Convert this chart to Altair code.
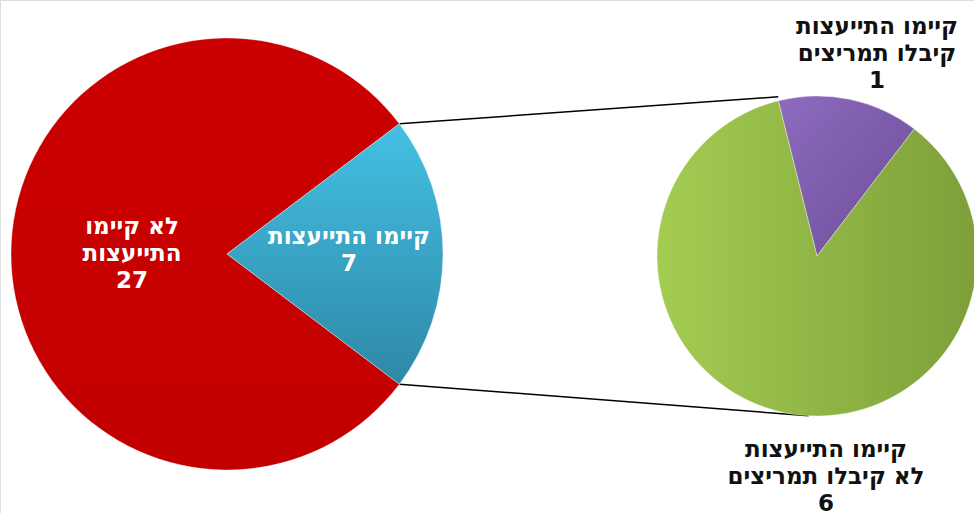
import math
import altair as alt
import pandas as pd

# ---- data ----
left_categories = ["קיימו התייעצות", "לא קיימו התייעצות"]
left_values = [7, 27]
right_categories = ["קיימו התייעצות קיבלו תמריצים", "קיימו התייעצות לא קיבלו תמריצים"]
right_values = [1, 6]

# label text (line-broken category names)
left_label_lines = ["קיימו התייעצות", "לא קיימו\nהתייעצות"]
right_label_lines = ["קיימו התייעצות\nקיבלו תמריצים", "קיימו התייעצות\nלא קיבלו תמריצים"]

# ---- layout (pixels) ----
W, H = 974, 513
L_CX, L_CY, L_R = 227, 254, 216
R_CX, R_CY, R_R = 817, 256, 160
FONT = "DejaVu Sans"
FS = 23
LH = 27


def pie_frame(cats, vals, labels, start):
    total = sum(vals)
    rows = []
    acc = 0.0
    for c, v, lab in zip(cats, vals, labels):
        a0 = start + 2 * math.pi * acc / total
        acc += v
        a1 = start + 2 * math.pi * acc / total
        rows.append({"cat": c, "value": v, "start": a0, "end": a1,
                     "label": lab + "\n" + str(v)})
    return pd.DataFrame(rows)


# left pie: the small slice centred on 3 o'clock
f_left = left_values[0] / sum(left_values)
left_start = math.pi / 2 - f_left * math.pi
left_df = pie_frame(left_categories, left_values, left_label_lines, left_start)

# right pie: small slice starts just left of 12 o'clock
right_start = math.radians(-14)
right_df = pie_frame(right_categories, right_values, right_label_lines, right_start)


def grad(c1, c2, x1=0, y1=0, x2=0, y2=1):
    return alt.Gradient(gradient="linear", x1=x1, y1=y1, x2=x2, y2=y2,
                        stops=[alt.GradientStop(color=c1, offset=0),
                               alt.GradientStop(color=c2, offset=1)])


def slice_layer(df, cat, cx, cy, r, fill):
    return alt.Chart(df).transform_filter(
        alt.datum.cat == cat
    ).mark_arc(fill=fill, stroke="#ffffff", strokeOpacity=0.35, strokeWidth=1).encode(
        theta=alt.Theta("start:Q", scale=None),
        theta2="end:Q",
        x=alt.value(cx), y=alt.value(cy),
        radius=alt.value(r),
    )


def label_layer(df, cat, x, y, color):
    return alt.Chart(df).transform_filter(
        alt.datum.cat == cat
    ).mark_text(font=FONT, fontSize=FS, fontWeight="bold", color=color,
                lineBreak="\n", lineHeight=LH, align="center", baseline="top").encode(
        text="label:N",
        x=alt.value(x), y=alt.value(y),
    )


# connector lines between the small left slice and the right pie
a_top = left_df.loc[0, "start"]
a_bot = left_df.loc[0, "end"]
p1 = (L_CX + L_R * math.sin(a_top), L_CY - L_R * math.cos(a_top))
p2 = (L_CX + L_R * math.sin(a_bot), L_CY - L_R * math.cos(a_bot))
q1 = (R_CX + R_R * math.sin(right_start), R_CY - R_R * math.cos(right_start) - 4)
q2 = (R_CX + R_R * math.sin(math.radians(183)), R_CY - R_R * math.cos(math.radians(183)))


def connector(p, q):
    return alt.Chart(left_df.head(1)).mark_rule(color="#000000", strokeWidth=1.5).encode(
        x=alt.value(p[0]), y=alt.value(p[1]), x2=alt.value(q[0]), y2=alt.value(q[1])
    )


layers = [
    connector(p1, q1),
    connector(p2, q2),
    slice_layer(left_df, left_categories[1], L_CX, L_CY, L_R, grad("#CC0000", "#C20000")),
    slice_layer(left_df, left_categories[0], L_CX, L_CY, L_R, grad("#44C0E4", "#2F88A6")),
    slice_layer(right_df, right_categories[0], R_CX, R_CY, R_R, grad("#8E6BBE", "#6C4D98", 0, 0, 1, 1)),
    slice_layer(right_df, right_categories[1], R_CX, R_CY, R_R, grad("#A4CC52", "#7E9F39", 0, 0, 1, 0)),
    label_layer(left_df, left_categories[1], 132, 216, "#FFFFFF"),
    label_layer(left_df, left_categories[0], 349, 226, "#FFFFFF"),
    label_layer(right_df, right_categories[0], 877, 16, "#111111"),
    label_layer(right_df, right_categories[1], 826, 439, "#111111"),
]

chart = alt.layer(*layers).properties(
    width=W, height=H, autosize=alt.AutoSizeParams(type="none"), padding=0
).configure_view(stroke=None).configure(background="#FFFFFF")

chart.save("out.html", embed_options={"renderer": "svg", "actions": False})
